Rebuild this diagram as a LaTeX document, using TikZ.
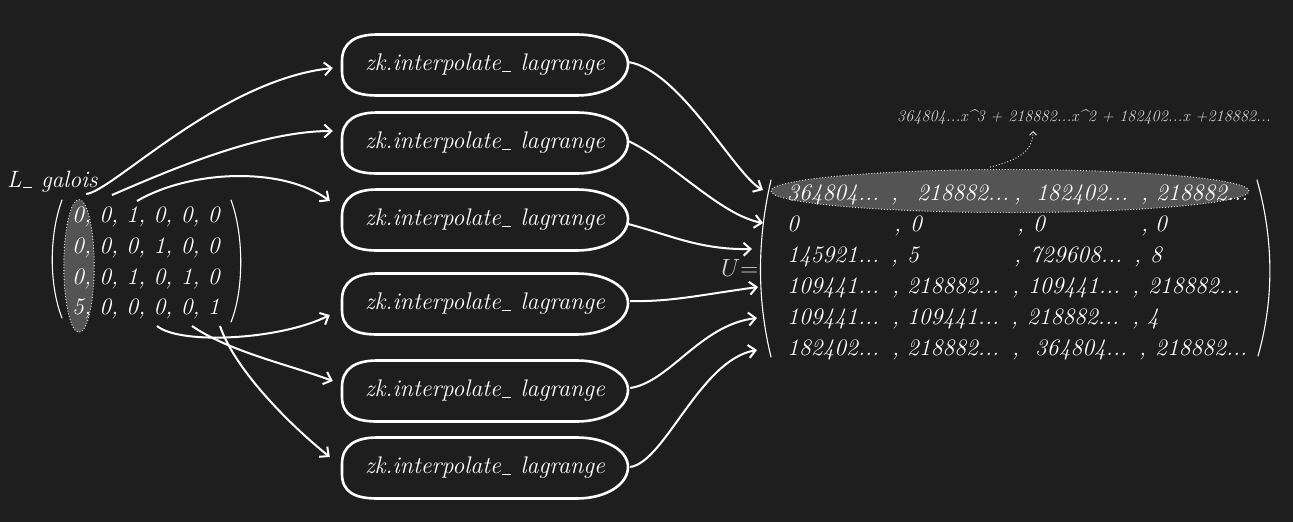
\documentclass[tikz,border=0pt]{standalone}
\usepackage{fontspec}
\usetikzlibrary{arrows.meta,shapes.geometric}
\definecolor{bg}{HTML}{1E1E1E}
\definecolor{hlfill}{HTML}{545454}
\definecolor{soft}{HTML}{D2D2D2}
\newcommand\uc[2]{\makebox[0pt][l]{\hspace*{#1pt}#2}}
\newcommand\us{\kern.06em\rule[-0.6pt]{.36em}{0.9pt}\kern.05em}
\begin{document}
\begin{tikzpicture}[x=1pt,y=-1pt,
  bigtxt/.style={font=\fontsize{23.6}{28}\selectfont\itshape, text=white, inner sep=0pt},
  zkbox/.style={minimum width=286pt, minimum height=61pt, text=white, font=\fontsize{24}{28}\selectfont\itshape, inner sep=0pt},
  boxline/.style={draw=white, line width=2.6pt, line join=round},
  arr/.style={white, line width=2pt, -{Straight Barb[length=7pt,width=13pt]}},
  paren/.style={white, line width=1.1pt, line cap=round},
  hl/.style={ellipse, fill=hlfill, draw=white, dotted, line width=0.9pt, inner sep=0pt},
  row/.style={bigtxt, anchor=base west}
]
\fill[bg] (0,0) rectangle (1293,522);
\useasboundingbox (0,0) rectangle (1293,522);

% ---- left matrix ----
\node[bigtxt, anchor=base west] (lg) at (7,187) {L\us\ galois};
\node[hl, minimum width=30.4pt, minimum height=132.6pt] (hlA) at (79,266) {};
\node[row] (r1) at (72,222) {0, 0, 1, 0, 0, 0};
\node[row] (r2) at (72,253) {0, 0, 0, 1, 0, 0};
\node[row] (r3) at (72,284) {0, 0, 1, 0, 1, 0};
\node[row] (r4) at (72,314) {5, 0, 0, 0, 0, 1};
\draw[paren] (62,200) .. controls (49,235) and (49,285) .. (62,318);
\draw[paren] (231,200) .. controls (244,235) and (244,290) .. (231,322);

% ---- function boxes ----
\node[zkbox] (b1) at (485,65) {zk.interpolate\us\ lagrange};
\node[zkbox] (b2) at (485,143) {zk.interpolate\us\ lagrange};
\node[zkbox] (b3) at (485,220) {zk.interpolate\us\ lagrange};
\node[zkbox] (b4) at (485,304) {zk.interpolate\us\ lagrange};
\node[zkbox] (b5) at (485,391) {zk.interpolate\us\ lagrange};
\node[zkbox] (b6) at (485,468) {zk.interpolate\us\ lagrange};
\foreach \n in {b1,b2,b3,b4,b5,b6}{
  \begin{scope}[shift={(\n.center)}]
  \draw[boxline] (-143,-4) .. controls (-143,-22) and (-130,-30.5) .. (-108,-30.5)
    -- (92,-30.5) .. controls (120,-30.5) and (143,-18) .. (143,-1)
    .. controls (143,17) and (120,30.5) .. (92,30.5)
    -- (-108,30.5) .. controls (-130,30.5) and (-143,24) .. (-143,6) -- cycle;
  \end{scope}
}

% ---- start points on the left ----
\coordinate (s1) at (86,194);
\coordinate (s2) at (112,195);
\coordinate (s3) at (137,201);
\coordinate (s4) at (157,326);
\coordinate (s5) at (192,326);
\coordinate (s6) at (220,326);

\draw[arr] (s1) .. controls (112,192) and (220,80) .. ([shift={(-9,3)}]b1.west);
\draw[arr] (s2) .. controls (170,170) and (260,131) .. ([shift={(-9,-12)}]b2.west);
\draw[arr] (s3) .. controls (190,170) and (282,166) .. ([shift={(-12,-19)}]b3.west);
\draw[arr] (s4) .. controls (180,345) and (280,340) .. ([shift={(-12,11)}]b4.west);
\draw[arr] (s5) .. controls (230,352) and (290,365) .. ([shift={(-9,-10)}]b5.west);
\draw[arr] (s6) .. controls (235,370) and (290,425) .. ([shift={(-12,-11)}]b6.west);

% ---- U matrix ----
\node[hl, minimum width=478pt, minimum height=43pt] (hlB) at (1010,191) {};
\node[font=\fontsize{24}{28}\selectfont, text=soft, anchor=base west, inner sep=0pt] (ueq) at (721,276) {$U{=}$};
\node[row] (u1) at (787,200) {\uc{0}{364804...}\uc{104}{,}\uc{130}{218882...}\uc{227}{,}\uc{249}{182402...}\uc{354}{,}\uc{369}{218882...}\hspace*{461pt}};
\node[row] (u2) at (787,231) {\uc{0}{0}\uc{107}{,}\uc{123}{0}\uc{230}{,}\uc{246}{0}\uc{354}{,}\uc{368}{0}\hspace*{380pt}};
\node[row] (u3) at (787,262) {\uc{0}{145921...}\uc{104}{,}\uc{120}{5}\uc{227}{,}\uc{243}{729608...}\uc{347}{,}\uc{363}{8}\hspace*{375pt}};
\node[row] (u4) at (787,293) {\uc{0}{109441...}\uc{105}{,}\uc{120}{218882...}\uc{225}{,}\uc{241}{109441...}\uc{345}{,}\uc{361}{218882...}\hspace*{452pt}};
\node[row] (u5) at (787,324) {\uc{0}{109441...}\uc{105}{,}\uc{120}{109441...}\uc{224}{,}\uc{240}{218882...}\uc{345}{,}\uc{360}{4}\hspace*{372pt}};
\node[row] (u6) at (787,355) {\uc{0}{182402...}\uc{105}{,}\uc{120}{218882...}\uc{225}{,}\uc{248}{364804...}\uc{352}{,}\uc{368}{218882...}\hspace*{459pt}};
\draw[paren] (771,180) .. controls (757,240) and (757,300) .. (771,357);
\draw[paren] (1257,180) .. controls (1274,240) and (1274,300) .. (1258,356);

\coordinate (t1) at (763,190);
\coordinate (t2) at (763,223);
\coordinate (t3) at (752,249);
\coordinate (t4) at (758,287);
\coordinate (t5) at (757,318);
\coordinate (t6) at (757,350);
\draw[arr] ([yshift=3]b1.east) .. controls (680,70) and (735,175) .. (t1);
\draw[arr] ([yshift=2]b2.east) .. controls (670,160) and (720,215) .. (t2);
\draw[arr] ([yshift=-4]b3.east) .. controls (670,235) and (700,250) .. (t3);
\draw[arr] ([shift={(2,-3)}]b4.east) .. controls (670,302) and (700,295) .. (t4);
\draw[arr] ([shift={(2,-3)}]b5.east) .. controls (670,382) and (700,325) .. (t5);
\draw[arr] ([shift={(2,-1)}]b6.east) .. controls (665,462) and (700,360) .. (t6);

% ---- polynomial ----
\node[font=\fontsize{16.2}{19}\selectfont\itshape, text=soft, anchor=base west, inner sep=0pt] (poly) at (897,121) {364804...x\textasciicircum3 + 218882...x\textasciicircum2 + 182402...x +218882...};
\coordinate (pt) at (1033,131);
\draw[soft, dotted, line width=1pt, -{Straight Barb[length=3.5pt,width=7pt]}] ([xshift=-20pt, yshift=2pt]hlB.north) .. controls (1020,160) and (1033,150) .. (pt);
\end{tikzpicture}
\end{document}
